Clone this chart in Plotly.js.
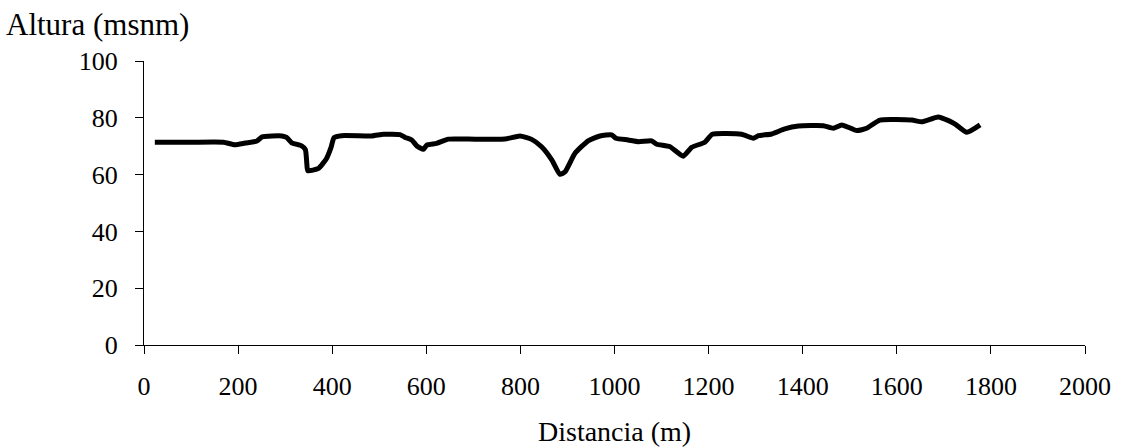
<!DOCTYPE html>
<html>
<head>
<meta charset="utf-8">
<script src="https://cdn.plot.ly/plotly-3.0.1.min.js"></script>
<style>html,body{margin:0;padding:0;background:#fff;}#chart{width:1125px;height:448px;}</style>
</head>
<body>
<div id="chart"></div>
<script>
const distancia = [23,100,169,193,215,240,251,293,303,314,335,343,346,348,371,388,397,404,420,484,509,544,555,569,580,594,601,622,647,689,767,799,824,845,867,884,895,916,944,969,994,1003,1029,1051,1079,1090,1118,1146,1164,1192,1208,1270,1295,1306,1334,1362,1391,1444,1465,1483,1515,1536,1564,1632,1653,1688,1710,1724,1749,1777];
const altura = [71.4,71.4,71.4,70.5,71.1,71.8,73.3,73.6,73.1,71.2,70.1,68.8,64.0,61.4,62.2,65.7,69.3,73.0,73.7,73.6,74.2,74.1,73.1,72.2,70.1,68.9,70.4,71.0,72.5,72.5,72.5,73.6,72.4,69.8,65.1,60.1,61.0,67.5,71.9,73.6,74.0,72.8,72.2,71.6,71.9,70.7,69.8,66.5,69.6,71.4,74.2,74.2,72.8,73.7,74.3,76.1,77.1,77.2,76.3,77.5,75.5,76.3,79.2,79.2,78.6,80.3,79.0,77.8,74.9,77.5];
const xTicks = [0,200,400,600,800,1000,1200,1400,1600,1800,2000];
const yTicks = [0,20,40,60,80,100];
const yTitle = 'Altura (msnm)';
const xTitle = 'Distancia (m)';

const font = 'Liberation Serif, Times New Roman, serif';
Plotly.newPlot('chart', [{
  x: distancia, y: altura, type: 'scatter', mode: 'lines',
  line: {color: '#000', width: 5, shape: 'spline', smoothing: 0.5},
  hoverinfo: 'skip'
}], {
  width: 1125, height: 448,
  margin: {l: 144, r: 40, t: 61, b: 103},
  paper_bgcolor: '#fff', plot_bgcolor: '#fff',
  showlegend: false,
  font: {family: font, color: '#000', size: 26},
  xaxis: {range: [0, 2000], tickvals: xTicks, ticktext: xTicks.map(String),
    showgrid: false, zeroline: false, showline: true, linecolor: '#000', linewidth: 1,
    ticks: 'outside', ticklen: 8, tickcolor: '#000', tickwidth: 1, ticklabelstandoff: 10,
    tickfont: {family: font, size: 26, color: '#000'}},
  yaxis: {range: [0, 100], tickvals: yTicks, ticktext: yTicks.map(String),
    showgrid: false, zeroline: false, showline: true, linecolor: '#000', linewidth: 1,
    ticks: 'outside', ticklen: 8, tickcolor: '#000', tickwidth: 1, ticklabelstandoff: 12,
    tickfont: {family: font, size: 26, color: '#000'}},
  annotations: [
    {text: yTitle, xref: 'paper', yref: 'paper', x: -0.1485, y: 1.127, xanchor: 'left', yanchor: 'middle',
     showarrow: false, font: {family: font, size: 31, color: '#000'}},
    {text: xTitle, xref: 'paper', yref: 'paper', x: 0.5, y: -0.306, xanchor: 'center', yanchor: 'middle',
     showarrow: false, font: {family: font, size: 28, color: '#000'}}
  ]
}, {displayModeBar: false, staticPlot: true});
</script>
</body>
</html>
